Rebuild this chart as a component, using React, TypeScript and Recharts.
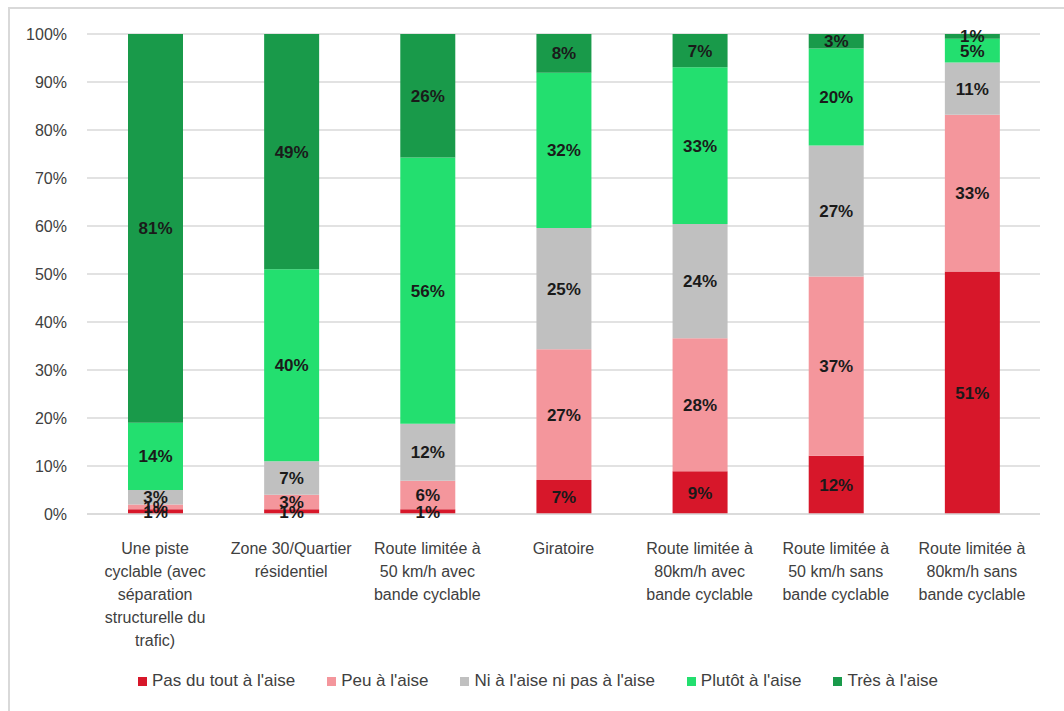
import React from "react";
import { BarChart, Bar, XAxis, YAxis, CartesianGrid, LabelList, Legend } from "recharts";

// Road settings (one bar each) and their wrapped axis labels
const categories = [
  "Une piste cyclable",
  "Zone 30",
  "Route 50 avec bande",
  "Giratoire",
  "Route 80 avec bande",
  "Route 50 sans bande",
  "Route 80 sans bande",
];
const categoryLines = [
  ["Une piste", "cyclable (avec", "séparation", "structurelle du", "trafic)"],
  ["Zone 30/Quartier", "résidentiel"],
  ["Route limitée à", "50 km/h avec", "bande cyclable"],
  ["Giratoire"],
  ["Route limitée à", "80km/h avec", "bande cyclable"],
  ["Route limitée à", "50 km/h sans", "bande cyclable"],
  ["Route limitée à", "80km/h sans", "bande cyclable"],
];

// Share of respondents per comfort level (%)
const pasDuTout = [1, 1, 1, 7, 9, 12, 51];
const peu = [1, 3, 6, 27, 28, 37, 33];
const ni = [3, 7, 12, 25, 24, 27, 11];
const plutot = [14, 40, 56, 32, 33, 20, 5];
const tres = [81, 49, 26, 8, 7, 3, 1];

const seriesNames = [
  "Pas du tout à l'aise",
  "Peu à l'aise",
  "Ni à l'aise ni pas à l'aise",
  "Plutôt à l'aise",
  "Très à l'aise",
];
const seriesKeys = ["pasDuTout", "peu", "ni", "plutot", "tres"];
const seriesColors = ["#D7172A", "#F4969C", "#C0C0C0", "#23DF6F", "#199A4A"];

const yTicks = [0, 10, 20, 30, 40, 50, 60, 70, 80, 90, 100];

const data = categories.map((name, i) => ({
  name,
  pasDuTout: pasDuTout[i],
  peu: peu[i],
  ni: ni[i],
  plutot: plutot[i],
  tres: tres[i],
}));

const FONT = "'Liberation Sans', Arial, sans-serif";

const CategoryTick = (props: any) => {
  const { x, y, payload } = props;
  const lines = categoryLines[payload.index] || [payload.value];
  return (
    <text x={x} y={y + 26} textAnchor="middle" fontFamily={FONT} fontSize={16} fill="#404040">
      {lines.map((line, k) => (
        <tspan key={k} x={x} dy={k === 0 ? "0.35em" : 23}>
          {line}
        </tspan>
      ))}
    </text>
  );
};

const LegendContent = () => (
  <div style={{ display: "flex", alignItems: "center", fontFamily: FONT, fontSize: 17, color: "#404040" }}>
    {seriesNames.map((n, i) => (
      <div key={n} style={{ display: "flex", alignItems: "center", marginRight: 32 }}>
        <span style={{ width: 9, height: 9, background: seriesColors[i], display: "inline-block", marginRight: 5 }} />
        <span>{n}</span>
      </div>
    ))}
  </div>
);

export default function App() {
  return (
    <div style={{ position: "fixed", left: 0, top: 0, width: 1064, height: 711, background: "#fff", overflow: "hidden" }}>
      <div
        style={{
          position: "absolute",
          left: 8,
          top: 7,
          width: 1100,
          height: 800,
          borderLeft: "2px solid #d9d9d9",
          borderTop: "2px solid #d9d9d9",
        }}
      />
      <div style={{ position: "absolute", left: 0, top: 0 }}>
        <BarChart
          width={1064}
          height={711}
          data={data}
          stackOffset="expand"
          margin={{ top: 34, right: 24, left: 0, bottom: 47 }}
        >
          <CartesianGrid vertical={false} stroke="#d9d9d9" strokeWidth={1.5} />
          <XAxis
            dataKey="name"
            height={150}
            interval={0}
            tickLine={false}
            axisLine={{ stroke: "#d9d9d9", strokeWidth: 1.5 }}
            tick={<CategoryTick />}
          />
          <YAxis
            width={87}
            domain={[0, 1]}
            ticks={yTicks.map((t) => t / 100)}
            tickFormatter={(v: number) => `${Math.round(v * 100)}%`}
            axisLine={false}
            tickLine={false}
            tickSize={0}
            tickMargin={20}
            tick={{ fontFamily: FONT, fontSize: 16, fill: "#404040" }}
          />
          <Legend
            verticalAlign="middle"
            layout="horizontal"
            wrapperStyle={{ top: 671, left: 138, width: "auto" }}
            content={<LegendContent />}
          />
          {seriesKeys.map((k, i) => (
            <Bar
              key={k}
              dataKey={k}
              name={seriesNames[i]}
              stackId="a"
              fill={seriesColors[i]}
              barSize={55}
              isAnimationActive={false}
            >
              <LabelList
                dataKey={k}
                position="center"
                formatter={(v: any) => `${v}%`}
                style={{ fontFamily: FONT, fontSize: 17, fontWeight: "bold", fill: "#1a1a1a" }}
              />
            </Bar>
          ))}
        </BarChart>
      </div>
    </div>
  );
}
